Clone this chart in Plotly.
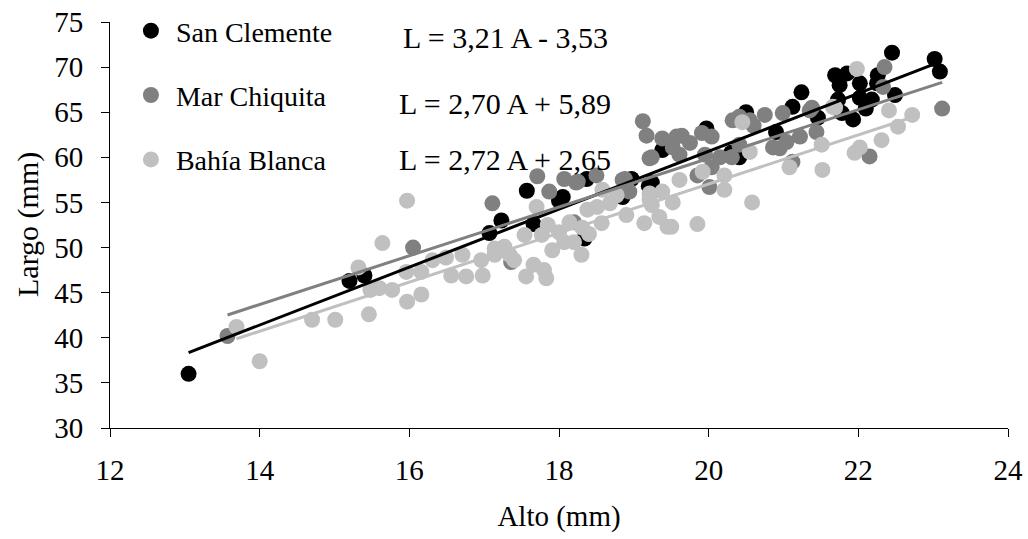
import plotly.graph_objects as go

# Alto (mm) / Largo (mm) measurements per locality
sc_x = [13.05, 15.2, 15.4, 17.07, 17.23, 17.57, 17.66, 18.05, 18.37, 18.34, 18.85, 18.97,
        19.2, 19.38, 19.24, 19.97, 20.41, 20.5, 21.12, 21.46, 21.24, 21.69, 21.85, 21.75,
        22.02, 22.26, 22.25, 21.93, 21.78, 22.02, 22.18, 21.73, 22.49, 22.45, 23.02, 23.09,
        18.0, 20.3, 20.9, 22.1]
sc_y = [36.0, 46.3, 46.9, 51.6, 53.0, 56.3, 52.6, 55.6, 57.6, 51.0, 55.6, 57.6,
        56.8, 60.8, 57.2, 63.2, 60.0, 65.0, 65.6, 64.4, 67.2, 69.1, 69.3, 68.0,
        68.2, 69.1, 68.2, 64.2, 64.9, 66.6, 66.4, 66.4, 66.9, 71.6, 70.9, 69.5,
        55.2, 60.5, 62.8, 65.4]

mc_x = [13.57, 16.05, 17.11, 17.36, 17.71, 17.87, 18.07, 18.25, 18.5, 18.88, 18.9, 19.12,
        19.17, 19.38, 19.57, 19.21, 19.64, 19.75, 19.91, 20.04, 19.24, 19.52, 19.61, 20.32,
        20.41, 20.55, 20.75, 20.99, 21.35, 21.22, 21.44, 20.86, 20.95, 21.04, 20.41, 20.15,
        20.04, 21.12, 20.01, 20.31, 19.95, 19.85, 20.6, 21.38, 22.35, 22.33, 23.12, 22.15,
        18.2, 18.23, 18.85, 18.94]
mc_y = [40.2, 50.0, 54.9, 48.4, 57.9, 56.2, 57.6, 57.3, 58.0, 57.6, 56.8, 64.0,
        62.4, 62.1, 62.3, 59.9, 62.4, 61.6, 62.7, 62.3, 60.0, 61.1, 60.3, 64.1,
        64.5, 64.1, 64.7, 64.9, 65.2, 62.3, 62.8, 61.1, 61.0, 61.7, 61.4, 60.0,
        58.9, 59.5, 56.7, 60.0, 60.3, 58.0, 63.5, 65.5, 70.0, 67.8, 65.4, 60.1,
        52.8, 57.2, 57.5, 56.2]

bb_x = [13.69, 14.0, 14.7, 15.01, 15.32, 15.46, 15.48, 15.6, 15.64, 15.77, 15.96, 15.97,
        15.97, 16.16, 16.16, 16.31, 16.49, 16.56, 16.71, 16.76, 16.96, 16.98, 17.14, 17.14,
        17.27, 17.34, 17.4, 17.56, 17.66, 17.8, 17.83, 17.54, 17.7, 17.77, 17.85, 17.91,
        18.0, 18.07, 18.14, 18.2, 18.3, 18.31, 18.38, 18.51, 18.57, 18.58, 18.68, 18.77,
        18.9, 19.14, 19.24, 19.34, 19.38, 19.45, 19.21, 19.21, 19.52, 19.5, 19.61, 19.85,
        19.92, 20.21, 20.21, 20.45, 20.55, 20.58, 21.08, 21.51, 21.52, 21.66, 21.69, 21.98,
        21.95, 22.02, 22.31, 22.41, 22.53, 22.72, 18.4]
bb_y = [41.2, 37.4, 42.0, 42.0, 47.8, 42.6, 45.3, 45.5, 50.5, 45.3, 47.3, 44.0,
        55.2, 47.3, 44.8, 48.6, 48.9, 46.9, 49.2, 46.8, 48.6, 46.9, 49.2, 49.9,
        50.1, 49.2, 48.6, 46.8, 48.1, 47.5, 46.6, 51.4, 54.5, 51.4, 52.5, 49.7,
        51.7, 50.6, 52.8, 50.6, 49.2, 52.2, 54.2, 54.5, 52.7, 56.4, 54.9, 55.8,
        53.6, 52.7, 54.7, 53.4, 56.2, 52.3, 55.3, 56.0, 55.0, 52.3, 57.5, 52.6,
        58.4, 58.0, 56.4, 63.9, 60.6, 55.0, 58.9, 61.4, 58.6, 65.6, 65.5, 69.8,
        60.5, 61.1, 61.9, 65.2, 63.4, 64.7, 51.5]

# Regression fits: L = slope * A + intercept
fits = {
    "San Clemente": (3.21, -3.53),
    "Mar Chiquita": (2.70, 5.89),
    "Bahía Blanca": (2.72, 2.65),
}
equations = ["L = 3,21 A - 3,53", "L = 2,70 A + 5,89", "L = 2,72 A + 2,65"]

series = [
    ("San Clemente", sc_x, sc_y, "#000000"),
    ("Mar Chiquita", mc_x, mc_y, "#808080"),
    ("Bahía Blanca", bb_x, bb_y, "#c0c0c0"),
]

FONT = "Liberation Serif, Times New Roman, serif"

fig = go.Figure()
for name, xs, ys, color in series:
    fig.add_trace(go.Scatter(
        x=xs, y=ys, mode="markers", name=name, legendgroup=name,
        marker=dict(color=color, size=16, line=dict(width=0)),
    ))

for name, xs, ys, color in series:
    m, b = fits[name]
    x0, x1 = min(xs), max(xs)
    fig.add_trace(go.Scatter(
        x=[x0, x1], y=[m * x0 + b, m * x1 + b], mode="lines",
        line=dict(color=color, width=3), showlegend=False, hoverinfo="skip",
    ))

for text, ypos in zip(equations, [0.961, 0.800, 0.662]):
    fig.add_annotation(
        text=text, xref="paper", yref="paper", x=0.44, y=ypos,
        showarrow=False, xanchor="center", yanchor="middle",
        font=dict(family=FONT, size=30, color="black"),
    )

# Vertical axis title
fig.add_annotation(
    text="Largo (mm)", xref="paper", yref="paper", x=0, y=0.5,
    xshift=-82, showarrow=False, textangle=-90,
    xanchor="center", yanchor="middle",
    font=dict(family=FONT, size=30, color="black"),
)

fig.update_layout(
    width=1028, height=539,
    margin=dict(l=110, r=20, t=22, b=111, autoexpand=False),
    paper_bgcolor="white", plot_bgcolor="white",
    font=dict(family=FONT, size=29, color="black"),
    showlegend=True,
    legend=dict(
        xref="container", yref="container",
        x=0.1225, y=0.989, xanchor="left", yanchor="top",
        bgcolor="rgba(0,0,0,0)", tracegroupgap=25, itemwidth=40,
        font=dict(family=FONT, size=28), itemsizing="trace",
    ),
    xaxis=dict(
        range=[12, 24], tickvals=[12, 14, 16, 18, 20, 22, 24], automargin=False,
        showgrid=False, zeroline=False, showline=True, linecolor="black", linewidth=1,
        ticks="outside", ticklen=8, tickcolor="black", tickfont=dict(size=29),
        ticklabelstandoff=8,
        title=dict(text="Alto (mm)", font=dict(size=29), standoff=20),
    ),
    yaxis=dict(
        range=[30, 75], tickvals=list(range(30, 80, 5)), automargin=False,
        showgrid=False, zeroline=False, showline=True, linecolor="black", linewidth=1,
        ticks="outside", ticklen=8, tickcolor="black", tickfont=dict(size=29),
        ticklabelstandoff=12,
    ),
)

fig.write_html("out.html")
